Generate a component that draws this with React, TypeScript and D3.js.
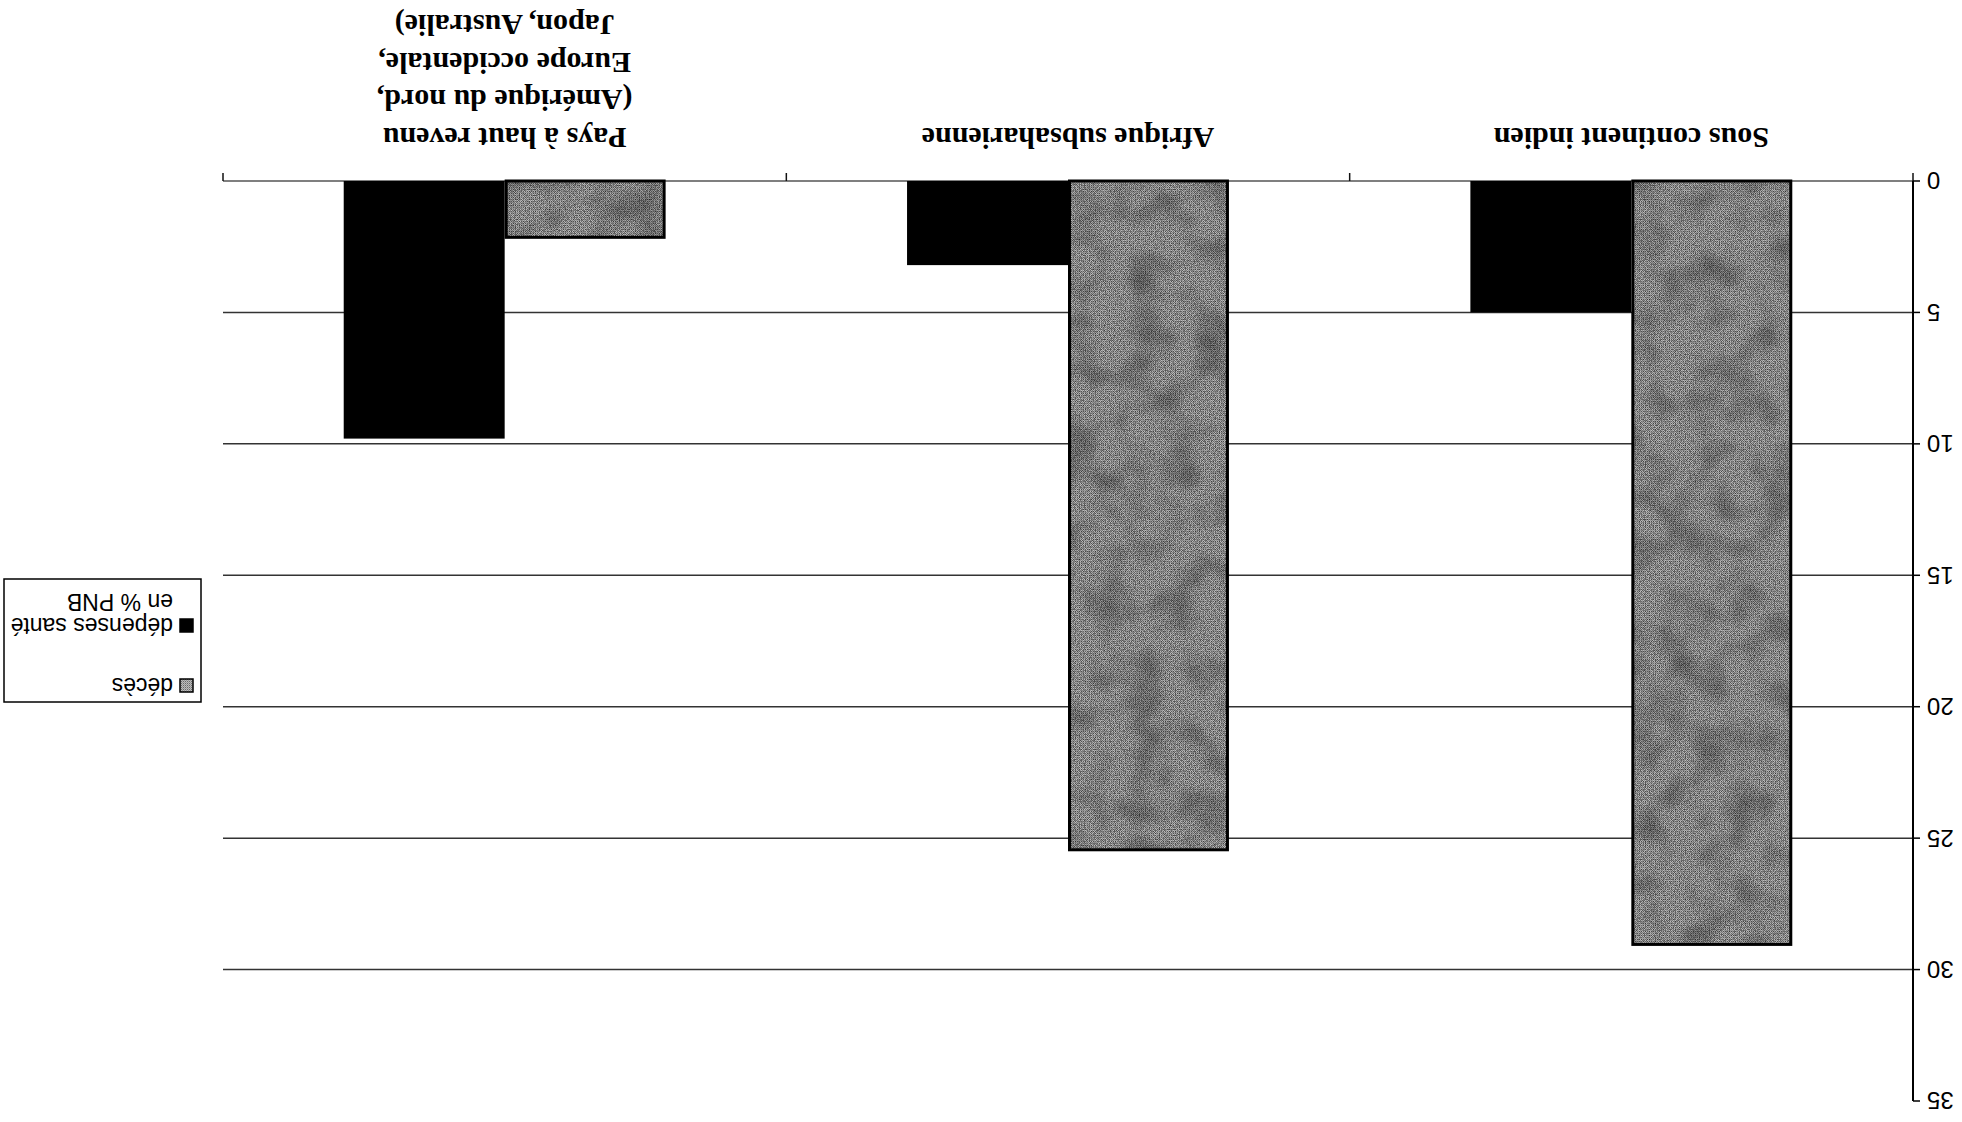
import React from 'react';
import * as d3 from 'd3';

const categories = [
  'Sous continent indien',
  'Afrique subsaharienne',
  'Pays à haut revenu (Amérique du nord, Europe occidentale, Japon, Australie)',
];
const categoryLines = [
  ['Sous continent indien'],
  ['Afrique subsaharienne'],
  ['Pays à haut revenu', '(Amérique du nord,', 'Europe occidentale,', 'Japon, Australie)'],
];
const seriesKeys = ['deces', 'depenses'];
const legendLines = [['décès'], ['dépenses santé', 'en % PNB']];
const decesValues = [29.1, 25.5, 2.2];
const depensesValues = [5.0, 3.2, 9.8];
const yTicks = [0, 5, 10, 15, 20, 25, 30, 35];
const gridTicks = [0, 5, 10, 15, 20, 25, 30];

const W = 1962;
const H = 1122;

export default function App() {
  // chart drawn in its natural orientation, then the whole picture turned 180°
  const axisX = 49;
  const plotRight = 1739;
  const y = d3.scaleLinear().domain([0, 35]).range([941, 21]);
  const x0 = d3.scaleBand<string>().domain(categories).range([axisX, plotRight]).padding(0);
  const x1 = d3
    .scaleBand<string>()
    .domain(seriesKeys)
    .range([0, x0.bandwidth()])
    .paddingInner(0)
    .paddingOuter(0.75);

  const values: Record<string, number[]> = { deces: decesValues, depenses: depensesValues };
  const catTicks = [...categories.map((c) => x0(c) as number), plotRight];

  return (
    <svg
      width={W}
      height={H}
      style={{ position: 'absolute', left: 0, top: 0, background: '#fff' }}
    >
      <defs>
        <pattern id="dither" width="2" height="2" patternUnits="userSpaceOnUse">
          <rect width="2" height="2" fill="#bcbcbc" />
          <rect width="1" height="1" fill="#6a6a6a" />
          <rect x="1" y="1" width="1" height="1" fill="#959595" />
        </pattern>
        <filter id="fine" x="0" y="0" width="100%" height="100%">
          <feTurbulence type="fractalNoise" baseFrequency="0.8" numOctaves="1" seed="3" result="n" />
          <feColorMatrix
            in="n"
            type="matrix"
            values="0 0 0 0 0  0 0 0 0 0  0 0 0 0 0  1.5 0 0 0 -0.6"
          />
        </filter>
        <filter id="coarse" x="0" y="0" width="100%" height="100%">
          <feTurbulence type="fractalNoise" baseFrequency="0.03" numOctaves="2" seed="11" result="n" />
          <feColorMatrix
            in="n"
            type="matrix"
            values="0 0 0 0 0  0 0 0 0 0  0 0 0 0 0  0.7 0 0 0 -0.3"
          />
        </filter>
      </defs>
      <rect width={W} height={H} fill="#fff" />
      <g transform={`rotate(180 ${W / 2} ${H / 2})`}>
        {/* gridlines */}
        {gridTicks.map((t) => (
          <line
            key={'g' + t}
            x1={axisX}
            x2={plotRight}
            y1={y(t)}
            y2={y(t)}
            stroke={t === 0 ? '#555' : '#333'}
            strokeWidth={1.5}
          />
        ))}
        {/* category ticks */}
        {catTicks.map((cx, i) => (
          <line key={'ct' + i} x1={cx} x2={cx} y1={y(0)} y2={y(0) + 8} stroke="#111" strokeWidth={1.5} />
        ))}
        {/* bars */}
        {categories.map((c, ci) =>
          seriesKeys.map((s) => {
            const v = values[s][ci];
            const bx = (x0(c) as number) + (x1(s) as number);
            const bw = x1.bandwidth();
            const top = y(v);
            const h = y(0) - top;
            return s === 'deces' ? (
              <g key={c + s}>
                <rect x={bx + 1.5} y={top + 1.5} width={bw - 3} height={h - 1.5} fill="url(#dither)" />
                <rect x={bx + 1.5} y={top + 1.5} width={bw - 3} height={h - 1.5} fill="#000" filter="url(#fine)" />
                <rect x={bx + 1.5} y={top + 1.5} width={bw - 3} height={h - 1.5} fill="#000" filter="url(#coarse)" />
                <rect
                  x={bx + 1.5}
                  y={top + 1.5}
                  width={bw - 3}
                  height={h - 1.5}
                  fill="none"
                  stroke="#000"
                  strokeWidth={3}
                />
              </g>
            ) : (
              <rect key={c + s} x={bx} y={top} width={bw} height={h} fill="#000" />
            );
          })
        )}
        {/* y axis */}
        <line x1={axisX} x2={axisX} y1={y(35)} y2={y(0)} stroke="#000" strokeWidth={2} />
        {yTicks.map((t) => (
          <g key={'yt' + t}>
            <line x1={axisX - 7} x2={axisX} y1={y(t)} y2={y(t)} stroke="#000" strokeWidth={1.5} />
            <text
              x={axisX - 14}
              y={y(t)}
              dy="0.36em"
              textAnchor="end"
              fontFamily="'Liberation Sans', Arial, sans-serif"
              fontSize={24}
              fill="#000"
            >
              {t}
            </text>
          </g>
        ))}
        {/* category labels */}
        {categories.map((c, ci) => {
          const cx = (x0(c) as number) + x0.bandwidth() / 2;
          return (
            <text
              key={'cl' + ci}
              textAnchor="middle"
              fontFamily="'Liberation Serif', 'Times New Roman', serif"
              fontWeight="bold"
              fontSize={30}
              fill="#000"
            >
              {categoryLines[ci].map((ln, li) => (
                <tspan key={li} x={cx} y={994 + li * 37.7}>
                  {ln}
                </tspan>
              ))}
            </text>
          );
        })}
        {/* legend */}
        <rect x={1761} y={420} width={197} height={123} fill="#fff" stroke="#000" strokeWidth={1.5} />
        {seriesKeys.map((s, si) => {
          const baseY = si === 0 ? 444 : 504;
          return (
            <g key={'lg' + s}>
              <rect
                x={1769}
                y={baseY - 14}
                width={13}
                height={13}
                fill={s === 'deces' ? 'url(#dither)' : '#000'}
                stroke="#000"
                strokeWidth={1.5}
              />
              <text fontFamily="'Liberation Sans', Arial, sans-serif" fontSize={23} fill="#000">
                {legendLines[si].map((ln, li) => (
                  <tspan key={li} x={1789} y={baseY + li * 24}>
                    {ln}
                  </tspan>
                ))}
              </text>
            </g>
          );
        })}
      </g>
    </svg>
  );
}
